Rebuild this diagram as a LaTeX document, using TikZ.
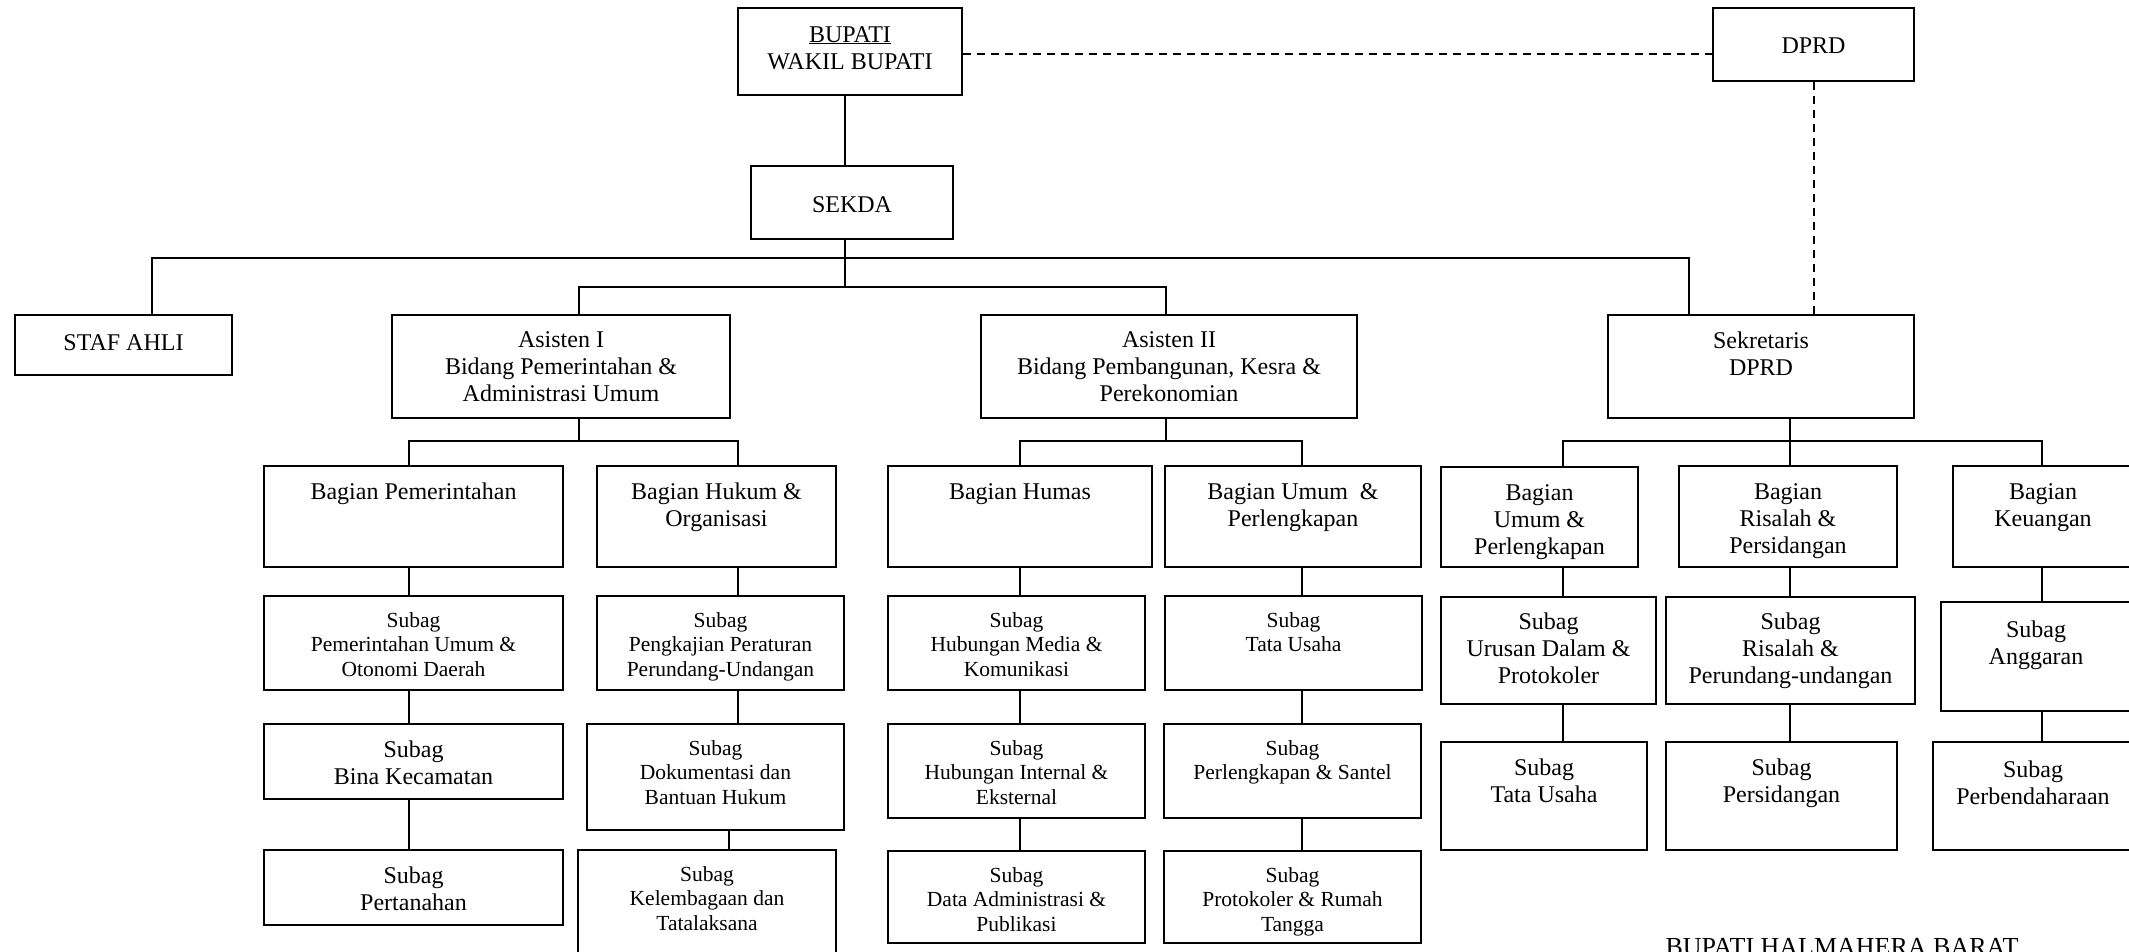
\documentclass[tikz,border=0pt]{standalone}
\usepackage{fontspec}
\setmainfont{Liberation Serif}

\newcommand{\fbig}{\fontsize{24}{27}\selectfont}
\newcommand{\fsmall}{\fontsize{21.5}{24.5}\selectfont}
% box text: [first baseline]{width}{height}{lines}
\newcommand{\inbox}[4][33]{\parbox[c][#3pt][t]{#2pt}{\centering\rule{0pt}{#1pt}#4\par}}

\begin{document}
\begin{tikzpicture}[x=1pt, y=-1pt,
  unit/.style={draw, line width=2pt, inner sep=0pt, font=\fbig},
  small/.style={unit, font=\fsmall},
  link/.style={line width=1.5pt},
  tie/.style={line width=2pt, dash pattern=on 8pt off 6pt}]
  \useasboundingbox (0,0) rectangle (2129,951);

  % top
  \node[unit] (bup) at (850,51.5) {\inbox[34]{224}{87}{\underline{BUPATI}\\WAKIL BUPATI}};
  \node[unit] (dprd) at (1813.5,44.5) {\inbox[45]{201}{73}{DPRD}};
  \node[unit] (sekda) at (852,202.5) {\inbox[46]{202}{73}{SEKDA}};
  \node[unit] (staf) at (123.5,345) {\inbox[35]{217}{60}{STAF AHLI}};
  \node[unit] (asis1) at (561,366.5) {\inbox[32]{338}{103}{Asisten I\\Bidang Pemerintahan \&\\Administrasi Umum}};
  \node[unit] (asis2) at (1169,366.5) {\inbox[32]{376}{103}{Asisten II\\Bidang Pembangunan, Kesra \&\\Perekonomian}};
  \node[unit] (sekr) at (1761,366.5) {\inbox{306}{103}{Sekretaris\\DPRD}};

  % bagian
  \node[unit] (bpem) at (413.5,516.5) {\inbox{299}{101}{Bagian Pemerintahan}};
  \node[unit] (bhuk) at (716.5,516.5) {\inbox{239}{101}{Bagian Hukum \&\\Organisasi}};
  \node[unit] (bhum) at (1020,516.5) {\inbox{264}{101}{Bagian Humas}};
  \node[unit] (bumu) at (1293,516.5) {\inbox{256}{101}{Bagian Umum\ \ \&\\Perlengkapan}};
  \node[unit] (bumd) at (1539.5,517) {\inbox{197}{100}{Bagian\\Umum \&\\Perlengkapan}};
  \node[unit] (bris) at (1788,516.5) {\inbox{218}{101}{Bagian\\Risalah \&\\Persidangan}};
  \node[unit] (bkeu) at (2043,516.5) {\inbox{180}{101}{Bagian\\Keuangan}};

  % subag, first row
  \node[small] (spem) at (413.5,643) {\inbox[31]{299}{94}{Subag\\Pemerintahan Umum \&\\Otonomi Daerah}};
  \node[small] (speng) at (720.5,643) {\inbox[31]{247}{94}{Subag\\Pengkajian Peraturan\\Perundang-Undangan}};
  \node[small] (shmed) at (1016.5,643) {\inbox[31]{257}{94}{Subag\\Hubungan Media \&\\Komunikasi}};
  \node[small] (stu) at (1293.5,643) {\inbox[31]{257}{94}{Subag\\Tata Usaha}};
  \node[unit] (surd) at (1548.5,650.5) {\inbox[32]{215}{107}{Subag\\Urusan Dalam \&\\Protokoler}};
  \node[unit] (sris) at (1790.5,650.5) {\inbox[32]{249}{107}{Subag\\Risalah \&\\Perundang-undangan}};
  \node[unit] (sang) at (2036,656.5) {\inbox[35]{190}{109}{Subag\\Anggaran}};

  % subag, second row
  \node[unit] (sbina) at (413.5,761.5) {\inbox{299}{75}{Subag\\Bina Kecamatan}};
  \node[small] (sdok) at (715.5,777) {\inbox[31]{257}{106}{Subag\\Dokumentasi dan\\Bantuan Hukum}};
  \node[small] (shint) at (1016.5,771) {\inbox[31]{257}{94}{Subag\\Hubungan Internal \&\\Eksternal}};
  \node[small] (sperl) at (1292.5,771) {\inbox[31]{257}{94}{Subag\\Perlengkapan \& Santel}};
  \node[unit] (stud) at (1544,796) {\inbox{206}{108}{Subag\\Tata Usaha}};
  \node[unit] (spers) at (1781.5,796) {\inbox{231}{108}{Subag\\Persidangan}};
  \node[unit] (sbend) at (2033,796) {\inbox[35]{200}{108}{Subag\\Perbendaharaan}};

  % subag, third row
  \node[unit] (sperta) at (413.5,887.5) {\inbox{299}{75}{Subag\\Pertanahan}};
  \node[small] (skel) at (707,907.5) {\inbox[31]{258}{115}{Subag\\Kelembagaan dan\\Tatalaksana}};
  \node[small] (sdata) at (1016.5,897) {\inbox[31]{257}{92}{Subag\\Data Administrasi \&\\Publikasi}};
  \node[small] (sprot) at (1292.5,897) {\inbox[31]{257}{92}{Subag\\Protokoler \& Rumah\\Tangga}};

  \node[font=\fontsize{26}{30}\selectfont, anchor=base] (sign) at (1842,955) {BUPATI HALMAHERA BARAT};

  % junctions
  \coordinate (ks) at (845,258);
  \coordinate (ka) at (845,287);
  \coordinate (kl) at (152,258);
  \coordinate (kr) at (1689,258);
  \coordinate (a1) at (579,287);
  \coordinate (a2) at (1166,287);
  \coordinate (p0) at (579,441);
  \coordinate (p1) at (409,441);
  \coordinate (p2) at (738,441);
  \coordinate (p3) at (729,441);
  \coordinate (q0) at (1166,441);
  \coordinate (q1) at (1020,441);
  \coordinate (q2) at (1302,441);
  \coordinate (r0) at (1790,441);
  \coordinate (r1) at (1563,441);
  \coordinate (r2) at (2042,441);
  \coordinate (dl) at (0,54);

  \draw[link] (bup.south -| ks) -- (sekda.north -| ks);
  \draw[link] (sekda.south -| ks) -- (ka);
  \draw[link] (staf.north -| kl) -- (kl) -- (kr) -- (sekr.north -| kr);
  \draw[link] (asis1.north -| a1) -- (a1) -- (a2) -- (asis2.north -| a2);

  \draw[link] (asis1.south -| p0) -- (p0);
  \draw[link] (bpem.north -| p1) -- (p1) -- (p2) -- (bhuk.north -| p2);
  \path[link]
  (bpem.south -| p1) edge (spem.north -| p1)
  (spem.south -| p1) edge (sbina.north -| p1)
  (sbina.south -| p1) edge (sperta.north -| p1)
  (bhuk.south -| p2) edge (speng.north -| p2)
  (speng.south -| p2) edge (sdok.north -| p2)
  (sdok.south -| p3) edge (skel.north -| p3);

  \draw[link] (asis2.south -| q0) -- (q0);
  \draw[link] (bhum.north -| q1) -- (q1) -- (q2) -- (bumu.north -| q2);
  \path[link]
  (bhum.south -| q1) edge (shmed.north -| q1)
  (shmed.south -| q1) edge (shint.north -| q1)
  (shint.south -| q1) edge (sdata.north -| q1)
  (bumu.south -| q2) edge (stu.north -| q2)
  (stu.south -| q2) edge (sperl.north -| q2)
  (sperl.south -| q2) edge (sprot.north -| q2);

  \draw[link] (sekr.south -| r0) -- (r0);
  \draw[link] (bumd.north -| r1) -- (r1) -- (r2) -- (bkeu.north -| r2);
  \path[link]
  (bris.north -| r0) edge (r0)
  (bumd.south -| r1) edge (surd.north -| r1)
  (surd.south -| r1) edge (stud.north -| r1)
  (bris.south -| r0) edge (sris.north -| r0)
  (sris.south -| r0) edge (spers.north -| r0)
  (bkeu.south -| r2) edge (sang.north -| r2)
  (sang.south -| r2) edge (sbend.north -| r2);

  \draw[tie] (bup.east |- dl) -- (dprd.west |- dl);
  \draw[tie] (dprd.south) -- (dprd.south |- sekr.north);
\end{tikzpicture}
\end{document}
